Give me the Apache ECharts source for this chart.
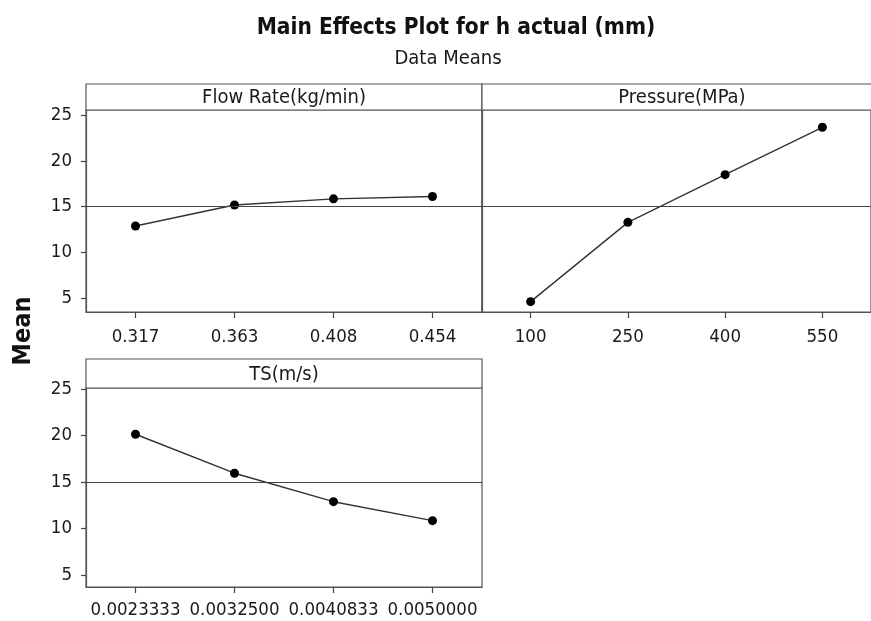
<!DOCTYPE html>
<html>
<head>
<meta charset="utf-8">
<script src="https://cdn.jsdelivr.net/npm/echarts@6/dist/echarts.min.js"></script>
<style>
    html, body { margin: 0; padding: 0; background: #fff; }
    #chart { width: 871px; height: 621px; }
</style>
</head>
<body>
<div id="chart"></div>
<script>
// 各因子水平
const flowLevels = ['0.317', '0.363', '0.408', '0.454'];
const pressureLevels = ['100', '250', '400', '550'];
const tsLevels = ['0.0023333', '0.0032500', '0.0040833', '0.0050000'];
// 均值
const flowMeans = [12.87, 15.16, 15.84, 16.1];
const pressureMeans = [4.6, 13.27, 18.48, 23.66];
const tsMeans = [20.13, 15.94, 12.88, 10.84];
const grandMean = 15.0;
const yTicks = [5, 10, 15, 20, 25];

const font = "'DejaVu Sans Condensed', 'DejaVu Sans', sans-serif";
const lineColor = '#555';

const grids = [
    { left: 86, top: 110, width: 396, height: 202 },
    { left: 482, top: 110, width: 396, height: 202 },
    { left: 86, top: 388, width: 396, height: 199 },
];

const xAxis = (idx, data, margin) => ({
    type: 'category',
    gridIndex: idx,
    data,
    boundaryGap: true,
    axisLine: { show: true, lineStyle: { color: lineColor, width: 1.2 } },
    axisTick: { show: true, alignWithLabel: true, interval: 0, length: 6, lineStyle: { color: '#444', width: 1.2 } },
    axisLabel: { color: '#1a1a1a', fontSize: 18.5, fontFamily: font, margin, interval: 0 },
    splitLine: { show: false },
});

const yAxis = (idx, min, max, showLabel) => ({
    type: 'value',
    gridIndex: idx,
    min,
    max,
    axisLine: { show: true, lineStyle: { color: lineColor, width: 1.2 } },
    axisTick: { show: showLabel, length: 5, customValues: yTicks, lineStyle: { color: '#444', width: 1.2 } },
    axisLabel: { show: showLabel, color: '#1a1a1a', fontSize: 18.5, fontFamily: font, margin: 14, customValues: yTicks },
    splitLine: { show: false },
});

const series = (idx, data) => ({
    type: 'line',
    xAxisIndex: idx,
    yAxisIndex: idx,
    data,
    symbol: 'circle',
    symbolSize: 9,
    itemStyle: { color: '#000' },
    lineStyle: { color: '#333', width: 1.4 },
    markLine: {
        silent: true,
        symbol: 'none',
        label: { show: false },
        lineStyle: { color: '#444', type: 'solid', width: 1.2 },
        data: [{ yAxis: grandMean }],
    },
});

const header = (x, y, w, h, text) => [
    { type: 'rect', shape: { x, y, width: w, height: h }, style: { fill: '#fff', stroke: lineColor, lineWidth: 1.2 } },
    { type: 'text', x: x + w / 2, y: y + h / 2 + 1, style: { text, fill: '#1a1a1a', font: '20px ' + font, textAlign: 'center', textVerticalAlign: 'middle' } },
];

const chart = echarts.init(document.getElementById('chart'));
chart.setOption({
    backgroundColor: '#fff',
    animation: false,
    grid: grids.map(g => Object.assign({ show: true, borderColor: lineColor, borderWidth: 1.2 }, g)),
    xAxis: [
        xAxis(0, flowLevels, 16),
        xAxis(1, pressureLevels, 16),
        xAxis(2, tsLevels, 14),
    ],
    yAxis: [
        yAxis(0, 3.47, 25.55, true),
        yAxis(1, 3.47, 25.55, false),
        yAxis(2, 3.71, 25.1, true),
    ],
    series: [
        series(0, flowMeans),
        series(1, pressureMeans),
        series(2, tsMeans),
    ],
    graphic: [
        { type: 'text', x: 456, y: 28, style: { text: 'Main Effects Plot for h actual (mm)', fill: '#111', font: 'bold 22.5px ' + font, textAlign: 'center', textVerticalAlign: 'middle' } },
        { type: 'text', x: 448, y: 59, style: { text: 'Data Means', fill: '#1a1a1a', font: '20px ' + font, textAlign: 'center', textVerticalAlign: 'middle' } },
        { type: 'text', x: 23, y: 331, rotation: Math.PI / 2, style: { text: 'Mean', fill: '#111', font: 'bold 25px ' + font, textAlign: 'center', textVerticalAlign: 'middle' } },
        ...header(86, 84, 396, 26, 'Flow Rate(kg/min)'),
        ...header(482, 84, 400, 26, 'Pressure(MPa)'),
        ...header(86, 359, 396, 29, 'TS(m/s)'),
    ],
});
</script>
</body>
</html>
